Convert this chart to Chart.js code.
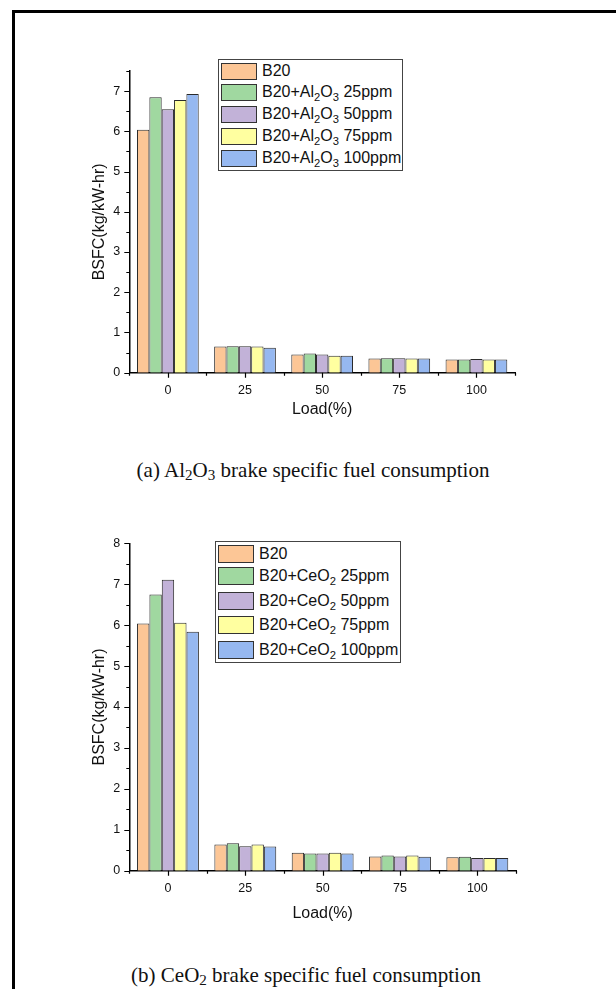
<!DOCTYPE html>
<html>
<head>
<meta charset="utf-8">
<script src="https://cdn.jsdelivr.net/npm/chart.js@4.4.1/dist/chart.umd.min.js"></script>
<style>
  body { margin: 0; width: 616px; height: 989px; overflow: hidden; background: #fff; position: relative; }
  .frame { position: absolute; left: 12px; top: 10px; width: 700px; height: 1100px;
           border-left: 3px solid #000; border-top: 3px solid #000; }
  canvas { position: absolute; left: 0; }
  .legend { position: absolute; border: 1px solid #444; background: #fff; box-sizing: border-box;
            font-family: "Liberation Sans", Arial, sans-serif; font-size: 16px; color: #111; }
  .legend .row { display: flex; align-items: center; padding-left: 2px; white-space: nowrap; }
  .legend .sw { width: 36px; height: 17px; border: 1px solid #333; box-sizing: border-box; margin-right: 5px; flex: none; }
  .legend sub { font-size: 0.7em; vertical-align: -0.35em; line-height: 0; }
  .caption { position: absolute; transform: translateX(-50%); white-space: nowrap;
             font-family: "Liberation Serif", "Times New Roman", serif; font-size: 21px; line-height: 24px; color: #111; }
  .caption sub { font-size: 0.72em; vertical-align: -0.2em; line-height: 0; }
</style>
</head>
<body>
<div class="frame"></div>

<canvas id="chartAl" width="616" height="390" style="top:40px"></canvas>
<div class="legend" id="legendAl" style="left:218px; top:59px; width:185px; height:112px; padding-top:1px"></div>
<div class="caption" style="left:313px; top:458px">(a) Al<sub>2</sub>O<sub>3</sub> brake specific fuel consumption</div>

<canvas id="chartCe" width="616" height="430" style="top:500px"></canvas>
<div class="legend" id="legendCe" style="left:215px; top:541px; width:186px; height:122px; padding-top:1px"></div>
<div class="caption" style="left:306px; top:963px">(b) CeO<sub>2</sub> brake specific fuel consumption</div>

<script>
// engine load categories
const loads = ['0', '25', '50', '75', '100'];

// series names
const namesAl = ['B20', 'B20+Al2O3 25ppm', 'B20+Al2O3 50ppm', 'B20+Al2O3 75ppm', 'B20+Al2O3 100ppm'];
const namesCe = ['B20', 'B20+CeO2 25ppm', 'B20+CeO2 50ppm', 'B20+CeO2 75ppm', 'B20+CeO2 100ppm'];

// BSFC (kg/kW-hr), Al2O3 blends
const alB20 = [6.04, 0.65, 0.45, 0.35, 0.33];
const al25 = [6.85, 0.66, 0.48, 0.36, 0.33];
const al50 = [6.55, 0.66, 0.45, 0.36, 0.34];
const al75 = [6.78, 0.65, 0.42, 0.35, 0.33];
const al100 = [6.93, 0.62, 0.42, 0.35, 0.33];

// BSFC (kg/kW-hr), CeO2 blends
const ceB20 = [6.04, 0.64, 0.44, 0.35, 0.33];
const ce25 = [6.75, 0.67, 0.42, 0.37, 0.34];
const ce50 = [7.11, 0.60, 0.42, 0.35, 0.31];
const ce75 = [6.06, 0.64, 0.44, 0.37, 0.31];
const ce100 = [5.84, 0.59, 0.42, 0.34, 0.31];

const fills = ['#fcc696', '#a0d8a0', '#c2b2d8', '#ffffa0', '#96b8f0'];

Chart.defaults.font.family = '"Liberation Sans", Arial, sans-serif';
Chart.defaults.color = '#111';

// major ticks at category centres / integer values, short ones in between
const axisTicks = {
  id: 'axisTicks',
  afterDraw(chart) {
    const {ctx, scales: {x, y}} = chart;
    ctx.save();
    ctx.strokeStyle = '#000';
    ctx.lineWidth = 1.2;
    ctx.beginPath();
    x.ticks.forEach((t, i) => {
      const px = Math.round(x.getPixelForTick(i)) + 0.5;
      ctx.moveTo(px, x.top);
      ctx.lineTo(px, x.top + 5);
    });
    for (let i = 0; i <= x.ticks.length; i++) {
      const px = Math.round(x.getPixelForValue(i - 0.5)) + 0.5;
      ctx.moveTo(px, x.top);
      ctx.lineTo(px, x.top + 3);
    }
    y.ticks.forEach(t => {
      const py = Math.round(y.getPixelForValue(t.value)) + 0.5;
      const len = Number.isInteger(t.value) ? 5 : 3;
      ctx.moveTo(y.right, py);
      ctx.lineTo(y.right - len, py);
    });
    ctx.stroke();
    ctx.restore();
  }
};

function makeDatasets(names, series) {
  return series.map((d, i) => ({
    label: names[i],
    data: d,
    backgroundColor: fills[i],
    borderColor: '#2a2a2a',
    borderWidth: 1,
    barPercentage: 1,
    categoryPercentage: 0.8
  }));
}

function makeChart(id, datasets, yMax, pad, xHeight, xTitlePad) {
  return new Chart(document.getElementById(id), {
    type: 'bar',
    data: { labels: loads, datasets: datasets },
    options: {
      responsive: false,
      animation: false,
      layout: { padding: pad },
      plugins: { legend: { display: false }, tooltip: { enabled: false } },
      scales: {
        x: {
          grid: { display: false, drawTicks: false },
          border: { color: '#000', width: 1.5 },
          ticks: { font: { size: 12.5 }, padding: 10, maxRotation: 0 },
          title: { display: true, text: 'Load(%)', font: { size: 16 }, padding: { top: 0, bottom: xTitlePad } },
          afterFit: s => { s.height = xHeight; }
        },
        y: {
          min: 0,
          max: yMax,
          grid: { display: false, drawTicks: false },
          border: { color: '#000', width: 1.5 },
          ticks: { stepSize: 0.5, font: { size: 12.5 }, padding: 9,
                   callback: v => Number.isInteger(v) ? v : '' },
          title: { display: true, text: 'BSFC(kg/kW-hr)', font: { size: 16 }, padding: { top: 2, bottom: 0 } },
          afterFit: s => { s.width = 41.3; }
        }
      }
    },
    plugins: [axisTicks]
  });
}

// HTML legend so the formulas can carry real subscripts
function buildLegend(chart, elId, rowHeights, swH) {
  const box = document.getElementById(elId);
  chart.data.datasets.forEach((ds, i) => {
    const row = document.createElement('div');
    row.className = 'row';
    row.style.height = rowHeights[i] + 'px';
    const sw = document.createElement('span');
    sw.className = 'sw';
    sw.style.background = ds.backgroundColor;
    sw.style.height = swH + 'px';
    const txt = document.createElement('span');
    txt.innerHTML = ds.label.replace(/(Al|O)(\d)/g, '$1<sub>$2</sub>');
    row.appendChild(sw);
    row.appendChild(txt);
    box.appendChild(row);
  });
}

const chartAl = makeChart('chartAl', makeDatasets(namesAl, [alB20, al25, al50, al75, al100]),
  7.5, { top: 31, left: 88, right: 101, bottom: 0 }, 57.3, 10.4);
const chartCe = makeChart('chartCe', makeDatasets(namesCe, [ceB20, ce25, ce50, ce75, ce100]),
  8, { top: 43.3, left: 88, right: 100, bottom: 0 }, 59.3, 7.1);

buildLegend(chartAl, 'legendAl', [20, 22, 22, 22, 22], 17);
buildLegend(chartCe, 'legendCe', [21, 24.5, 24.5, 24.5, 24.5], 18);
</script>
</body>
</html>
